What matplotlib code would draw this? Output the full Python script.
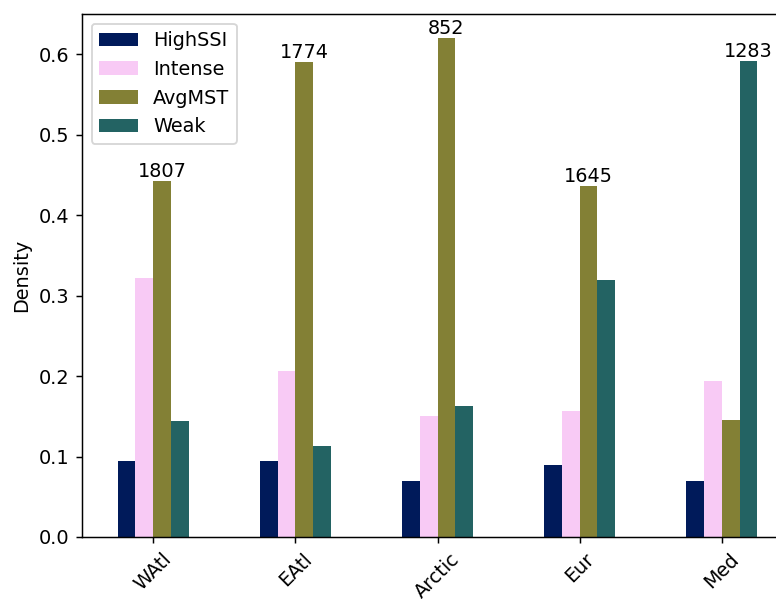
import matplotlib
matplotlib.use("Agg")
import matplotlib.pyplot as plt
import numpy as np

regions = ["WAtl", "EAtl", "Arctic", "Eur", "Med"]
series_names = ["HighSSI", "Intense", "AvgMST", "Weak"]
high_ssi = [0.094, 0.094, 0.070, 0.089, 0.070]
intense = [0.322, 0.206, 0.150, 0.157, 0.194]
avg_mst = [0.442, 0.590, 0.620, 0.436, 0.146]
weak = [0.144, 0.113, 0.163, 0.320, 0.591]
counts = [1807, 1774, 852, 1645, 1283]
colors = ["#001a5a", "#f8caf5", "#838035", "#236363"]

DPI = 133
plt.rcParams["font.size"] = 10.4
fig = plt.figure(figsize=(776 / DPI, 599 / DPI), dpi=DPI)
ax = fig.add_axes([82 / 776, 1 - 537 / 599, 711 / 776, 523 / 599])

data = np.array([high_ssi, intense, avg_mst, weak])
x = np.arange(len(regions))
n = len(series_names)
w = 0.5 / n
for i, (name, vals) in enumerate(zip(series_names, data)):
    ax.bar(x + (i - (n - 1) / 2) * w, vals, width=w, color=colors[i], label=name)

# annotate the tallest bar in each region with the storm count
for j in range(len(regions)):
    k = int(np.argmax(data[:, j]))
    xpos = x[j] + (k - (n - 1) / 2) * w
    ax.text(xpos, data[k, j], str(counts[j]), ha="center", va="bottom")

ax.set_xlim(-0.5, len(regions) - 0.5)
ax.set_ylim(0, 0.65)
ax.set_xticks(x)
ax.set_xticklabels(regions, rotation=45)
ax.set_ylabel("Density")
ax.legend(loc="upper left")

fig.savefig("out.png", dpi=DPI)
